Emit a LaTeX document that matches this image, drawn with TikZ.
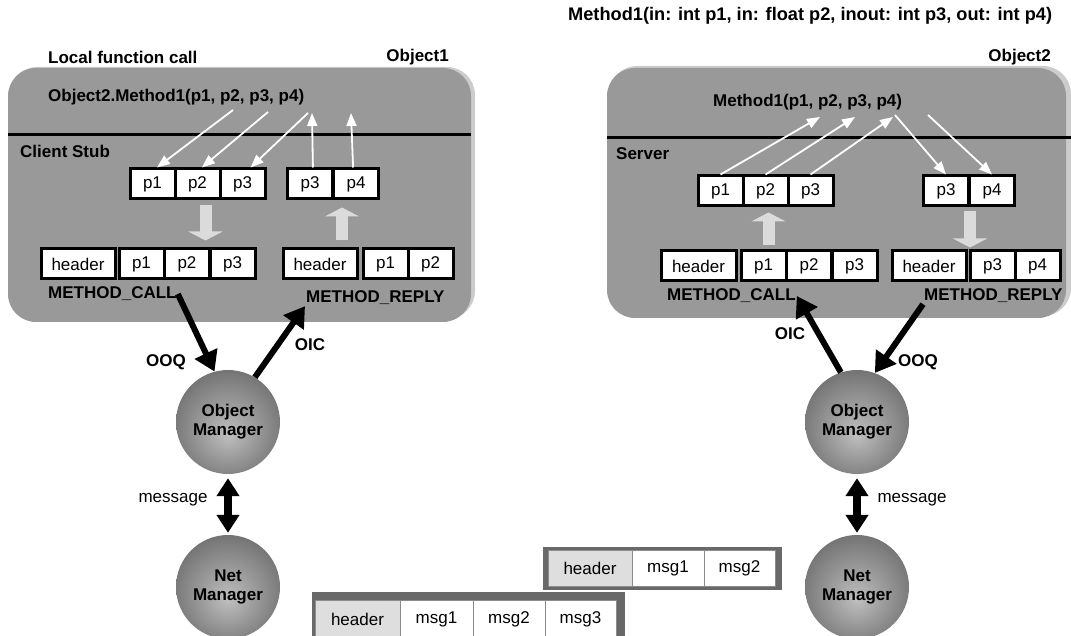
\documentclass[tikz,border=0pt]{standalone}
\usepackage{fontspec}
\setmainfont{Liberation Sans}
\usetikzlibrary{arrows.meta}
\newcommand\diagfont{\fontsize{17}{19}\selectfont}
\pgfdeclareradialshading{mgrshade}{\pgfpoint{0bp}{-6bp}}{color(0bp)=(black!25); color(12bp)=(black!38); color(50bp)=(black!78)}
\tikzset{
  lbl/.style={font=\diagfont\bfseries, inner sep=1pt},
  objbox/.style={fill=black!40, rounded corners=28pt, inner sep=0pt},
  objrim/.style={fill=black!20, rounded corners=28pt, inner sep=0pt},
  sepline/.style={line width=3pt},
  cell/.style={draw, line width=3pt, fill=white, minimum height=30pt, inner sep=0pt, font=\diagfont},
  pcell/.style={cell, minimum width=45pt},
  hcell/.style={cell, minimum width=74pt},
  flow/.style={draw=white, line width=1.8pt, -{Triangle[width=10pt,length=13pt]}},
  bulk/.style={draw=black!14, line width=12pt, -{Triangle[width=34pt,length=9pt]}},
  queue/.style={line width=6pt, -{Triangle[width=24pt,length=20pt]}},
  msgarrow/.style={line width=8pt, {Triangle[width=22pt,length=18pt]}-{Triangle[width=22pt,length=18pt]}},
  mgr/.style={circle, minimum size=104pt, shading=mgrshade, font=\diagfont\bfseries, align=center, inner sep=0pt},
  pktframe/.style={fill=black!59},
  pkt/.style={draw=black!45, line width=0.8pt, fill=white, inner sep=0pt, font=\diagfont}
}
\begin{document}
\begin{tikzpicture}[x=1pt,y=-1pt]
    \useasboundingbox (0,0) rectangle (1071,636);
    \node[objrim, minimum width=466pt, minimum height=252pt] (rim1) at (242,193){};
    \node[objbox, minimum width=463pt, minimum height=254pt] (obj1) at (239.5,195){};
    \node[objrim, minimum width=462pt, minimum height=250pt] (rim2) at (840,191){};
    \node[objbox, minimum width=459pt, minimum height=250pt] (obj2) at (836.5,193){};
    \draw[sepline] (8,135) -- (471,135);
    \draw[sepline] (607,138) -- (1071,138);

    \node[lbl, anchor=west] (title) at (567,16){\fontsize{18.2}{20}\selectfont Method1(in: int p1, in: float p2, inout: int p3, out: int p4)};
    \node[lbl, anchor=west] (lfc) at (47,57){Local function call};
    \node[lbl, anchor=east] (ob1) at (450,57){Object1};
    \node[lbl, anchor=east] (ob2) at (1052,57){Object2};
    \node[lbl, anchor=west] (callL) at (47,97){Object2.Method1(p1, p2, p3, p4)};
    \node[lbl, anchor=west] (mthR) at (712,102){Method1(p1, p2, p3, p4)};
    \node[lbl, anchor=west] (stub) at (19,151){Client Stub};
    \node[lbl, anchor=west] (srv) at (615,154){Server};

    \foreach \n/\x in {p1/152.5, p2/197.5, p3/242.5} \node[pcell] (lT\n) at (\x,184){\n};
    \foreach \n/\t/\x in {q3/p3/310, q4/p4/356} \node[pcell] (lT\n) at (\x,184){\t};
    \node[hcell] (lBh1) at (78,264){header};
    \foreach \n/\x in {p1/141.5, p2/187, p3/232.5} \node[pcell] (lB\n) at (\x,264){\n};
    \node[hcell] (lBh2) at (320,264){header};
    \foreach \n/\t/\x in {q1/p1/385.5, q2/p2/430.5} \node[pcell] (lB\n) at (\x,264){\t};

    \foreach \n/\x in {p1/720.5, p2/765.5, p3/810.5} \node[pcell] (rT\n) at (\x,191){\n};
    \foreach \n/\t/\x in {q3/p3/946, q4/p4/992} \node[pcell] (rT\n) at (\x,191){\t};
    \node[hcell, minimum width=75pt] (rBh1) at (698.5,266){header};
    \foreach \n/\x in {p1/763.5, p2/809, p3/854.5} \node[pcell] (rB\n) at (\x,266){\n};
    \node[hcell] (rBh2) at (929,266){header};
    \foreach \n/\t/\x in {q3/p3/992.5, q4/p4/1037.5} \node[pcell] (rB\n) at (\x,266){\t};

    \node[lbl, anchor=west] (mcL) at (47,294){METHOD\_CALL};
    \node[lbl, anchor=west] (mrL) at (305,298){METHOD\_REPLY};
    \node[lbl, anchor=west] (mcR) at (666,296){METHOD\_CALL};
    \node[lbl, anchor=west] (mrR) at (923,296){METHOD\_REPLY};

    \coordinate (lw1) at (233,110);
    \coordinate (lw2) at (268,112);
    \coordinate (lw3) at (308,113);
    \coordinate (lw4) at (312,113);
    \coordinate (lw5) at (351,113);
    \draw[flow] (lw1) -- (lTp1.75);
    \draw[flow] (lw2) -- (lTp2.75);
    \draw[flow] (lw3) -- (lTp3.64);
    \draw[flow] (lTq3.80) -- (lw4);
    \draw[flow] (lTq4.100) -- (lw5);
    \coordinate (rw1) at (820,117);
    \coordinate (rw2) at (855,117);
    \coordinate (rw3) at (893,117);
    \coordinate (rw4) at (895,115);
    \coordinate (rw5) at (928,115);
    \draw[flow] (rTp1.north) -- (rw1);
    \draw[flow] (rTp2.north) -- (rw2);
    \draw[flow] (rTp3.north) -- (rw3);
    \draw[flow] (rw4) -- (rTq3.north);
    \draw[flow] (rw5) -- (rTq4.north);

    \draw[bulk] ([xshift=8pt,yshift=-5pt]lTp2.south) -- ([xshift=18.5pt,yshift=7pt]lBp2.north);
    \draw[bulk] ([xshift=22pt,yshift=7pt]lBh2.north) -- ([xshift=-14pt,yshift=-7pt]lTq4.south);
    \draw[bulk] ([xshift=5pt,yshift=4pt]rBp1.north) -- ([xshift=3pt,yshift=-5pt]rTp2.south);
    \draw[bulk] ([xshift=-22pt,yshift=-4pt]rTq4.south) -- ([xshift=-22.5pt,yshift=2pt]rBq3.north);

    \node[mgr] (omL) at (228,422){Object\\Manager};
    \node[mgr] (nmL) at (228,587){Net\\Manager};
    \node[mgr] (omR) at (857,422){Object\\Manager};
    \node[mgr] (nmR) at (857,587){Net\\Manager};

    \draw[queue] (mcL.east) -- (omL.105);
    \draw[queue] (omL.59) -- (mrL.south west);
    \draw[queue] (omR.108) -- (mcR.east);
    \draw[queue] (mrR.south west) -- (omR.70);
    \draw[msgarrow, shorten <=4pt, shorten >=2pt] (omL) -- (nmL);
    \draw[msgarrow, shorten <=4pt, shorten >=2pt] (omR) -- (nmR);

    \node[lbl] (ooqL) at (166,362){OOQ};
    \node[lbl] (oicL) at (310,345){OIC};
    \node[lbl] (oicR) at (790,334){OIC};
    \node[lbl] (ooqR) at (918,362){OOQ};
    \node[font=\diagfont] (msgL) at (173,500){message};
    \node[font=\diagfont] (msgR) at (912,500){message};

    \fill[pktframe] (543,547) rectangle (782,590);
    \node[pkt, fill=black!13, minimum width=84pt, minimum height=36pt] (paH) at (590,568){header};
    \node[pkt, minimum width=72pt, minimum height=36pt] (paM1) at (668,568){msg1};
    \node[pkt, minimum width=71pt, minimum height=36pt] (paM2) at (739.5,568){msg2};
    \fill[pktframe] (312,592) rectangle (625,640);
    \node[pkt, fill=black!13, minimum width=85pt, minimum height=38pt] (pbH) at (357.5,619){header};
    \node[pkt, minimum width=73pt, minimum height=38pt] (pbM1) at (436.5,619){msg1};
    \node[pkt, minimum width=72pt, minimum height=38pt] (pbM2) at (509,619){msg2};
    \node[pkt, minimum width=71pt, minimum height=38pt] (pbM3) at (580.5,619){msg3};
\end{tikzpicture}
\end{document}
